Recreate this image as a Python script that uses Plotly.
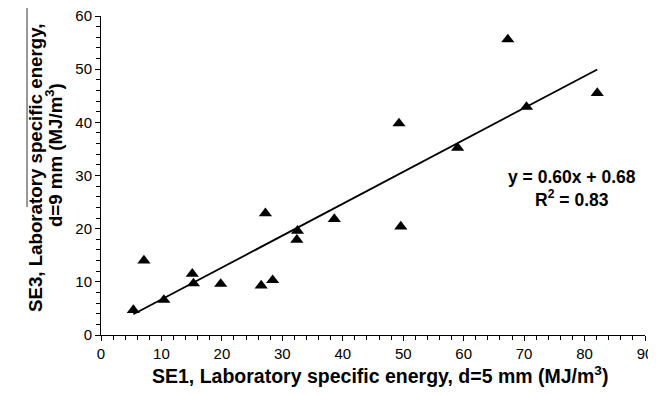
import plotly.graph_objects as go

# Data
se1 = [5.35, 7.1, 10.4, 15.1, 15.3, 19.8, 26.5, 27.2, 28.4, 32.5, 32.4, 38.6,
       49.3, 49.6, 59.0, 67.3, 70.4, 82.1]
se3 = [4.7, 14.0, 6.6, 11.5, 9.7, 9.6, 9.3, 22.9, 10.3, 19.6, 17.9, 21.8,
       39.8, 20.4, 35.2, 55.6, 42.9, 45.5]
slope = 0.60
intercept = 0.68
r2 = 0.83
x_ticks = [0, 10, 20, 30, 40, 50, 60, 70, 80, 90]
y_ticks = [0, 10, 20, 30, 40, 50, 60]
x_title = "<b>SE1, Laboratory specific energy, d=5 mm (MJ/m<sup>3</sup>)</b>"
y_title_1 = "<b>SE3, Laboratory specific energy,</b>"
y_title_2 = "<b>d=9 mm (MJ/m<sup>3</sup>)</b>"

FONT = "Liberation Sans, Arial, sans-serif"

line_x = [min(se1), max(se1)]
line_y = [slope * v + intercept for v in line_x]

fig = go.Figure()
fig.add_trace(go.Scatter(x=line_x, y=line_y, mode="lines",
                         line=dict(color="black", width=1.8),
                         showlegend=False, hoverinfo="skip"))
fig.add_trace(go.Scatter(x=se1, y=se3, mode="markers",
                         marker=dict(symbol="triangle-up", size=11.5, color="black"),
                         showlegend=False))

fig.add_annotation(x=0.866, y=0.458, xref="paper", yref="paper",
                   text=f"<b>y = {slope:.2f}x + {intercept:.2f}</b><br><b>R<sup>2</sup> = {r2:.2f}</b>",
                   showarrow=False, align="center", xanchor="center", yanchor="middle",
                   font=dict(family=FONT, size=17.5, color="black"))

# y-axis title, two lines
fig.add_annotation(x=-0.1213, y=0.5235, xref="paper", yref="paper", text=y_title_1,
                   textangle=-90, showarrow=False, xanchor="center", yanchor="middle",
                   font=dict(family=FONT, size=18.7, color="black"))
fig.add_annotation(x=-0.0864, y=0.564, xref="paper", yref="paper", text=y_title_2,
                   textangle=-90, showarrow=False, xanchor="center", yanchor="middle",
                   font=dict(family=FONT, size=18.7, color="black"))

# x-axis title
fig.add_annotation(x=0.513, y=-0.125, xref="paper", yref="paper", text=x_title,
                   showarrow=False, xanchor="center", yanchor="middle",
                   font=dict(family=FONT, size=19.5, color="black"))

# thin overline artifact present in the reference above the y title
fig.add_shape(type="line", xref="paper", yref="paper",
              x0=-0.136, x1=-0.136, y0=0.401, y1=1.025,
              line=dict(color="#333333", width=1))

fig.update_xaxes(range=[0, 90], tickvals=x_ticks, ticks="outside", ticklen=5,
                 tickwidth=1, tickcolor="black", showline=True, linecolor="black",
                 linewidth=1, showgrid=False, zeroline=False, ticklabeloverflow="allow",
                 tickfont=dict(family=FONT, size=15, color="black"),
                 minor=dict(dtick=2, ticks="outside", ticklen=4, tickcolor="black", showgrid=False))
fig.update_yaxes(range=[0, 60], tickvals=y_ticks, ticks="outside", ticklen=5,
                 tickwidth=1, tickcolor="black", showline=True, linecolor="black",
                 linewidth=1, showgrid=False, zeroline=False, ticklabeloverflow="allow",
                 tickfont=dict(family=FONT, size=15, color="black"),
                 minor=dict(dtick=2, ticks="outside", ticklen=4, tickcolor="black", showgrid=False))

# the page body has an 8px default margin, so the figure is sized to fit the window
fig.update_layout(width=648, height=380, plot_bgcolor="white", paper_bgcolor="white",
                  margin=dict(l=93, r=11, t=8, b=53, autoexpand=False))

fig.write_html("out.html")
